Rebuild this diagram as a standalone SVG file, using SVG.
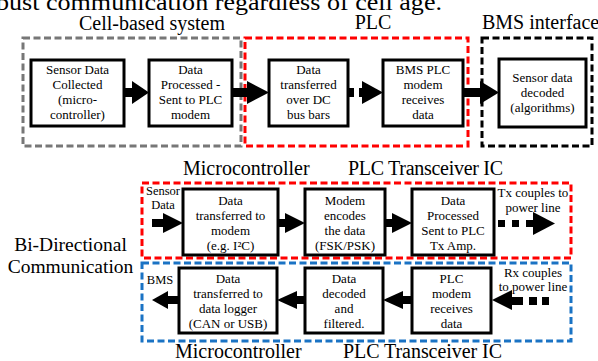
<svg xmlns="http://www.w3.org/2000/svg" width="598" height="361" viewBox="0 0 598 361">
<style>
text{font-family:"Liberation Serif","Times New Roman",serif;fill:#000}
.bx{fill:#fff;stroke:#000;stroke-width:3}
.t{font-size:13px;text-anchor:middle}
.s{font-size:12.5px;text-anchor:middle}
.h{font-size:20px}
.dg{fill:none;stroke:#777;stroke-width:3;stroke-dasharray:7 3.5}
.dr{fill:none;stroke:#ff0000;stroke-width:3;stroke-dasharray:7 3.5}
.dk{fill:none;stroke:#000;stroke-width:3;stroke-dasharray:7 3.5}
.db{fill:none;stroke:#1a73c4;stroke-width:3;stroke-dasharray:7 3.5}
.a{fill:#000}
</style>
<text x="-4" y="10" style="font-size:24px" textLength="446" lengthAdjust="spacingAndGlyphs">bust communication regardless of cell age.</text>

<!-- group frames -->
<g id="cell-based-system">
<rect class="dg" x="23" y="38" width="218" height="108"/>
<text class="h" x="152" y="30" text-anchor="middle">Cell-based system</text>
</g>
<g id="plc-group">
<rect class="dr" x="245" y="38" width="223" height="108"/>
<text class="h" x="373" y="29" text-anchor="middle">PLC</text>
</g>
<g id="bms-interface">
<rect class="dk" x="482" y="38" width="110" height="108"/>
<text class="h" x="482" y="29">BMS interface</text>
</g>
<g id="tx-frame">
<rect class="dr" x="142" y="183" width="429" height="75"/>
<text class="h" x="183" y="175">Microcontroller</text>
<text class="h" x="348" y="175" textLength="155">PLC Transceiver IC</text>
</g>
<g id="rx-frame">
<rect class="db" x="142" y="263" width="429" height="78"/>
<text class="h" x="175" y="358">Microcontroller</text>
<text class="h" x="343" y="358" textLength="159">PLC Transceiver IC</text>
</g>
<g id="bidir-label">
<text x="70.5" y="251" text-anchor="middle" style="font-size:19.5px">Bi-Directional</text>
<text x="70.5" y="273" text-anchor="middle" style="font-size:19.5px">Communication</text>
</g>

<!-- connectors -->
<g id="connectors">
<rect class="a" x="124" y="88" width="10" height="9"/>
<polygon class="a" points="132,81 149,92.5 132,104"/>
<rect class="a" x="232" y="88" width="16" height="9"/>
<polygon class="a" points="247,81 269,92.5 247,104"/>
<rect class="a" x="348" y="88" width="6" height="9"/>
<rect class="a" x="359" y="88" width="5" height="9"/>
<polygon class="a" points="362,81 383,92.5 362,104"/>
<rect class="a" x="463" y="88" width="19" height="9"/>
<polygon class="a" points="480,81 499,92.5 480,104"/>

<rect class="a" x="152" y="219" width="13" height="8"/>
<polygon class="a" points="163,213 183,223 163,233"/>
<rect class="a" x="278" y="219" width="9" height="8"/>
<polygon class="a" points="285,213 305,223 285,233"/>
<rect class="a" x="385" y="219" width="9" height="8"/>
<polygon class="a" points="392,213 412,223 392,233"/>
<rect class="a" x="498" y="220" width="7" height="7"/>
<rect class="a" x="512" y="220" width="7" height="7"/>
<rect class="a" x="526" y="220" width="7" height="7"/>
<polygon class="a" points="533,212 555,223.5 533,235"/>

<polygon class="a" points="152,300 168,291 168,309"/>
<rect class="a" x="167" y="296" width="12" height="8"/>
<polygon class="a" points="277,300 297,291 297,309"/>
<rect class="a" x="296" y="296" width="9" height="8"/>
<polygon class="a" points="383,300 403,291 403,309"/>
<rect class="a" x="402" y="296" width="10" height="8"/>
<polygon class="a" points="492,300 512,290 512,310"/>
<rect class="a" x="511" y="297" width="12" height="8"/>
<rect class="a" x="529" y="297" width="8" height="8"/>
<rect class="a" x="542" y="297" width="7" height="8"/>
</g>

<!-- top row nodes -->
<g id="sensor-data-collected">
<rect class="bx" x="31" y="60" width="93" height="66"/>
<text class="t" x="77.5" y="74">Sensor Data</text>
<text class="t" x="77.5" y="89">Collected</text>
<text class="t" x="77.5" y="104">(micro-</text>
<text class="t" x="77.5" y="119">controller)</text>
</g>
<g id="data-processed">
<rect class="bx" x="149" y="60" width="83" height="66"/>
<text class="t" x="190.5" y="74">Data</text>
<text class="t" x="190.5" y="89">Processed -</text>
<text class="t" x="190.5" y="104">Sent to PLC</text>
<text class="t" x="190.5" y="119">modem</text>
</g>
<g id="data-transferred-dc">
<rect class="bx" x="269" y="60" width="79" height="66"/>
<text class="t" x="308.5" y="74">Data</text>
<text class="t" x="308.5" y="89">transferred</text>
<text class="t" x="308.5" y="104">over DC</text>
<text class="t" x="308.5" y="119">bus bars</text>
</g>
<g id="bms-plc-modem">
<rect class="bx" x="383" y="60" width="80" height="66"/>
<text class="t" x="423" y="74">BMS PLC</text>
<text class="t" x="423" y="89">modem</text>
<text class="t" x="423" y="104">receives</text>
<text class="t" x="423" y="119">data</text>
</g>
<g id="sensor-data-decoded">
<rect class="bx" x="499" y="59" width="87" height="68"/>
<text class="t" x="542.5" y="82">Sensor data</text>
<text class="t" x="542.5" y="97">decoded</text>
<text class="t" x="542.5" y="112">(algorithms)</text>
</g>

<!-- Tx row -->
<g id="sensor-data-label">
<text class="s" x="163" y="195">Sensor</text>
<text class="s" x="163" y="209">Data</text>
</g>
<g id="tx-transfer-modem">
<rect class="bx" x="183" y="189" width="95" height="66"/>
<text class="t" x="230.5" y="205">Data</text>
<text class="t" x="230.5" y="220">transferred to</text>
<text class="t" x="230.5" y="235">modem</text>
<text class="t" x="230.5" y="250">(e.g. I²C)</text>
</g>
<g id="tx-modem-encodes">
<rect class="bx" x="305" y="189" width="80" height="66"/>
<text class="t" x="345" y="205">Modem</text>
<text class="t" x="345" y="220">encodes</text>
<text class="t" x="345" y="235">the data</text>
<text class="t" x="345" y="250">(FSK/PSK)</text>
</g>
<g id="tx-data-processed">
<rect class="bx" x="412" y="189" width="82" height="66"/>
<text class="t" x="453" y="205">Data</text>
<text class="t" x="453" y="220">Processed</text>
<text class="t" x="453" y="235">Sent to PLC</text>
<text class="t" x="453" y="250">Tx Amp.</text>
</g>
<g id="tx-couples-label">
<text class="t" x="533" y="197">Tx couples to</text>
<text class="t" x="533" y="212">power line</text>
</g>

<!-- Rx row -->
<g id="bms-label">
<text class="s" x="160" y="284">BMS</text>
</g>
<g id="rx-transfer-logger">
<rect class="bx" x="179" y="268" width="98" height="65"/>
<text class="t" x="228" y="283">Data</text>
<text class="t" x="228" y="298">transferred to</text>
<text class="t" x="228" y="313">data logger</text>
<text class="t" x="228" y="328">(CAN or USB)</text>
</g>
<g id="rx-decoded">
<rect class="bx" x="305" y="268" width="78" height="65"/>
<text class="t" x="344" y="283">Data</text>
<text class="t" x="344" y="298">decoded</text>
<text class="t" x="344" y="313">and</text>
<text class="t" x="344" y="328">filtered.</text>
</g>
<g id="rx-plc-modem">
<rect class="bx" x="412" y="268" width="79" height="65"/>
<text class="t" x="451.5" y="283">PLC</text>
<text class="t" x="451.5" y="298">modem</text>
<text class="t" x="451.5" y="313">receives</text>
<text class="t" x="451.5" y="328">data</text>
</g>
<g id="rx-couples-label">
<text class="t" x="533" y="277">Rx couples</text>
<text class="t" x="533" y="291">to power line</text>
</g>
</svg>
